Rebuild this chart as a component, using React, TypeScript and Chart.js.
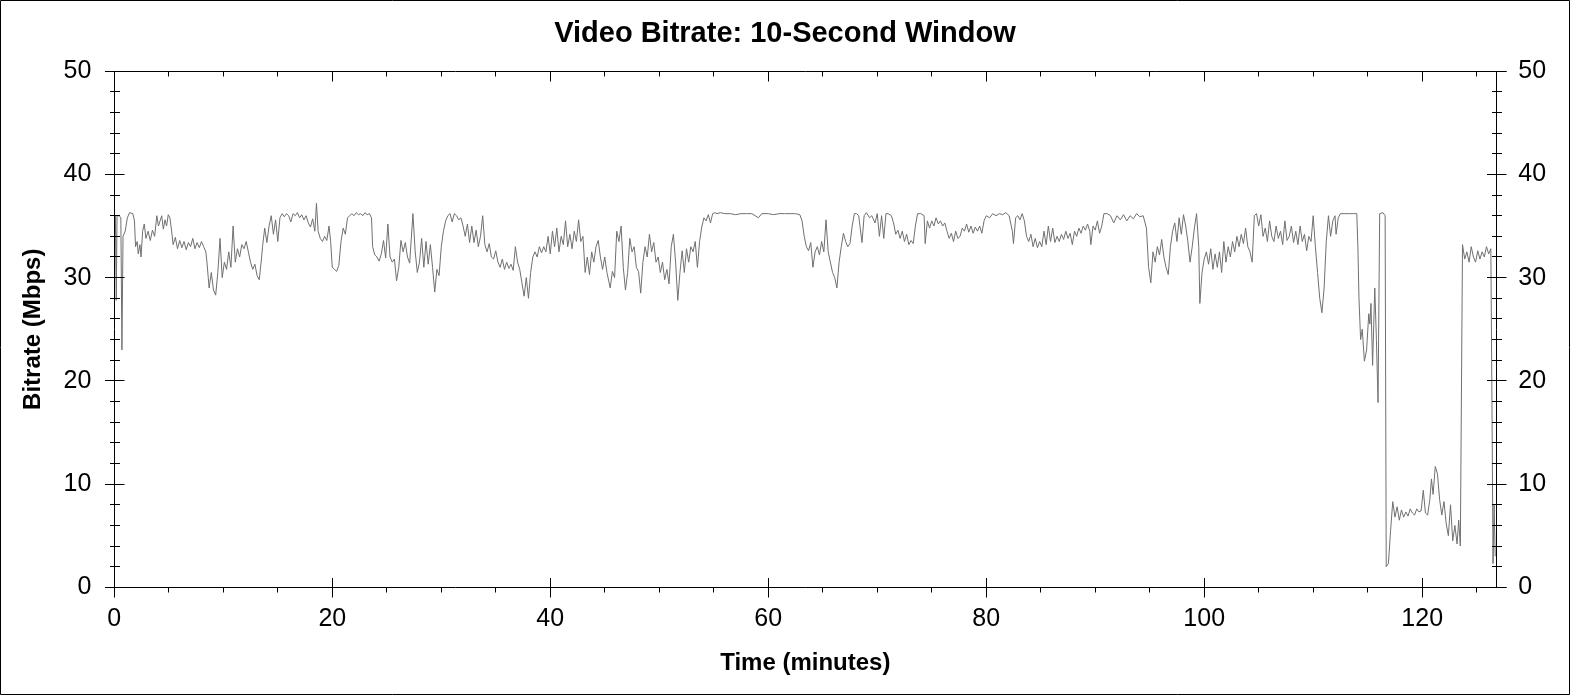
import React, { useEffect, useRef } from "react";
import { Chart, registerables } from "chart.js";

Chart.register(...registerables);

const TITLE = "Video Bitrate: 10-Second Window";
const X_TITLE = "Time (minutes)";
const Y_TITLE = "Bitrate (Mbps)";
const X_MAX = 126.8;
const Y_MAX = 50;
const X_MAJOR = 20;
const X_MINOR = 5;
const Y_MAJOR = 10;
const Y_MINOR = 2;

const TIME_MIN = [
  0.0, 0.1, 0.18, 0.25, 0.45, 0.6, 0.7, 0.8, 1.0, 1.2,
  1.4, 1.7, 1.85, 1.95, 2.1, 2.2, 2.35, 2.45, 2.6, 2.75,
  2.9, 3.1, 3.3, 3.5, 3.7, 3.9, 4.05, 4.2, 4.35, 4.5,
  4.65, 4.8, 4.95, 5.1, 5.25, 5.4, 5.6, 5.8, 6.0, 6.2,
  6.4, 6.6, 6.8, 7.0, 7.2, 7.4, 7.6, 7.8, 8.0, 8.2,
  8.4, 8.5, 8.7, 8.9, 9.1, 9.3, 9.5, 9.7, 9.9, 10.1,
  10.3, 10.5, 10.7, 10.9, 11.1, 11.3, 11.5, 11.7, 11.9, 12.1,
  12.3, 12.5, 12.7, 12.9, 13.1, 13.3, 13.5, 13.6, 13.8, 14.0,
  14.2, 14.4, 14.6, 14.8, 15.0, 15.2, 15.4, 15.6, 15.8, 16.0,
  16.2, 16.4, 16.6, 16.8, 17.0, 17.2, 17.4, 17.6, 17.8, 18.0,
  18.2, 18.4, 18.55, 18.7, 18.9, 19.1, 19.3, 19.5, 19.7, 19.85,
  20.0, 20.2, 20.4, 20.6, 20.8, 21.0, 21.2, 21.4, 21.6, 21.8,
  22.0, 22.2, 22.4, 22.6, 22.8, 23.0, 23.2, 23.4, 23.6, 23.7,
  23.9, 24.1, 24.3, 24.5, 24.7, 24.9, 25.1, 25.3, 25.5, 25.7,
  25.9, 26.1, 26.3, 26.5, 26.7, 26.9, 27.1, 27.4, 27.6, 27.8,
  28.0, 28.2, 28.4, 28.6, 28.8, 29.0, 29.2, 29.4, 29.6, 29.8,
  30.0, 30.2, 30.4, 30.6, 30.8, 31.0, 31.2, 31.4, 31.6, 31.8,
  32.0, 32.2, 32.4, 32.6, 32.8, 33.0, 33.2, 33.4, 33.6, 33.8,
  34.0, 34.2, 34.4, 34.6, 34.8, 35.0, 35.2, 35.4, 35.6, 35.8,
  36.0, 36.2, 36.4, 36.6, 36.8, 37.0, 37.2, 37.4, 37.6, 37.8,
  38.0, 38.2, 38.4, 38.6, 38.8, 39.0, 39.2, 39.4, 39.6, 39.8,
  40.0, 40.2, 40.4, 40.6, 40.8, 41.0, 41.2, 41.4, 41.6, 41.8,
  42.0, 42.2, 42.4, 42.6, 42.8, 43.0, 43.2, 43.4, 43.6, 43.8,
  44.0, 44.2, 44.4, 44.6, 44.8, 45.0, 45.2, 45.5, 45.7, 45.9,
  46.1, 46.3, 46.5, 46.7, 46.9, 47.1, 47.3, 47.5, 47.7, 47.9,
  48.1, 48.3, 48.5, 48.7, 48.9, 49.1, 49.3, 49.5, 49.7, 49.9,
  50.1, 50.3, 50.5, 50.7, 50.9, 51.1, 51.3, 51.5, 51.7, 51.9,
  52.1, 52.3, 52.5, 52.7, 52.9, 53.1, 53.3, 53.5, 53.7, 53.9,
  54.1, 54.3, 54.5, 54.7, 54.9, 55.1, 55.3, 55.6, 56.0, 56.5,
  57.0, 57.5, 58.0, 58.5, 59.1, 59.4, 60.0, 60.5, 61.0, 61.5,
  62.0, 62.5, 62.9, 63.1, 63.3, 63.5, 63.7, 63.9, 64.1, 64.3,
  64.5, 64.7, 64.9, 65.1, 65.3, 65.5, 65.7, 65.9, 66.1, 66.3,
  66.5, 66.7, 66.9, 67.1, 67.3, 67.5, 67.7, 67.9, 68.1, 68.3,
  68.6, 68.8, 69.0, 69.3, 69.5, 69.8, 70.0, 70.2, 70.4, 70.6,
  70.8, 71.0, 71.3, 71.5, 71.7, 71.9, 72.1, 72.3, 72.5, 72.7,
  72.9, 73.1, 73.3, 73.5, 73.7, 74.0, 74.3, 74.4, 74.6, 74.8,
  75.0, 75.2, 75.4, 75.6, 75.8, 76.0, 76.2, 76.4, 76.6, 76.8,
  77.0, 77.2, 77.4, 77.6, 77.8, 78.0, 78.2, 78.4, 78.6, 78.8,
  79.0, 79.2, 79.4, 79.6, 79.8, 80.0, 80.3, 80.6, 80.9, 81.2,
  81.5, 81.8, 82.1, 82.4, 82.5, 82.7, 82.9, 83.1, 83.3, 83.5,
  83.7, 83.9, 84.1, 84.3, 84.5, 84.7, 84.9, 85.1, 85.3, 85.5,
  85.7, 85.9, 86.1, 86.3, 86.5, 86.7, 86.9, 87.1, 87.3, 87.5,
  87.7, 87.9, 88.1, 88.3, 88.5, 88.7, 88.9, 89.1, 89.3, 89.5,
  89.6, 89.8, 90.0, 90.2, 90.4, 90.6, 90.8, 91.1, 91.4, 91.7,
  92.0, 92.3, 92.6, 92.9, 93.2, 93.5, 93.8, 94.1, 94.4, 94.7,
  94.9, 95.1, 95.3, 95.5, 95.7, 95.9, 96.1, 96.3, 96.5, 96.7,
  96.9, 97.1, 97.3, 97.5, 97.7, 97.9, 98.1, 98.3, 98.5, 98.7,
  98.9, 99.1, 99.3, 99.5, 99.6, 99.8, 100.0, 100.2, 100.4, 100.6,
  100.8, 101.0, 101.2, 101.4, 101.6, 101.8, 102.0, 102.2, 102.4, 102.6,
  102.8, 103.0, 103.2, 103.4, 103.6, 103.8, 104.0, 104.2, 104.4, 104.6,
  104.8, 105.0, 105.2, 105.4, 105.6, 105.8, 106.0, 106.2, 106.4, 106.6,
  106.8, 107.0, 107.2, 107.4, 107.6, 107.8, 108.0, 108.2, 108.4, 108.6,
  108.8, 109.0, 109.2, 109.4, 109.6, 109.8, 110.0, 110.2, 110.4, 110.6,
  110.8, 111.0, 111.2, 111.4, 111.6, 111.8, 112.0, 112.1, 112.3, 112.5,
  112.9, 113.3, 113.7, 114.0, 114.1, 114.2, 114.35, 114.5, 114.7, 114.9,
  115.1, 115.2, 115.3, 115.45, 115.65, 115.8, 115.95, 116.1, 116.4, 116.6,
  116.7, 116.9, 117.1, 117.3, 117.5, 117.7, 117.9, 118.1, 118.3, 118.5,
  118.7, 118.9, 119.1, 119.3, 119.5, 119.7, 119.9, 120.1, 120.3, 120.5,
  120.7, 120.85, 121.0, 121.2, 121.4, 121.6, 121.8, 122.0, 122.2, 122.4,
  122.6, 122.8, 123.0, 123.2, 123.35, 123.5, 123.7, 123.9, 124.1, 124.3,
  124.5, 124.7, 124.9, 125.1, 125.3, 125.5, 125.7, 125.9, 126.1, 126.3,
  126.4, 126.5, 126.6, 126.7,
];

const BITRATE_MBPS = [
  36.0, 36.0, 27.8, 36.0, 36.0, 35.8, 23.0, 34.0, 34.5, 35.8,
  36.3, 36.2, 35.5, 33.0, 33.5, 32.3, 33.2, 32.0, 34.5, 35.2,
  33.8, 34.5, 33.6, 34.6, 34.0, 36.0, 35.0, 35.5, 36.0, 34.7,
  35.6, 35.0, 36.1, 35.8, 34.6, 33.2, 33.9, 32.8, 33.6, 32.9,
  33.5, 32.7, 33.4, 33.0, 33.8, 32.8, 33.4, 32.9, 33.5, 33.0,
  32.5, 31.5, 29.0, 30.5, 28.8, 28.3, 30.5, 33.8, 30.0, 31.5,
  30.8, 32.5, 31.0, 35.0, 31.5, 32.8, 32.0, 33.2, 32.8, 33.5,
  32.5, 31.5, 30.8, 31.3, 30.2, 29.8, 31.8, 33.0, 34.8, 33.4,
  35.0, 36.0, 34.2, 35.6, 33.5, 35.8, 36.2, 35.9, 36.2, 36.0,
  35.4, 36.2, 36.0, 36.3, 35.8, 36.1, 35.6, 36.0, 35.3, 34.9,
  35.7, 34.5, 37.2, 34.5, 33.8, 33.5, 34.0, 33.6, 35.0, 33.5,
  31.0, 30.8, 30.6, 31.2, 33.5, 34.8, 34.2, 35.8, 36.0, 36.2,
  36.0, 36.3, 36.1, 36.2, 36.0, 36.3, 36.1, 36.2, 35.8, 33.0,
  32.2, 32.0, 31.6, 32.3, 33.6, 31.9, 35.2, 32.0, 31.5, 31.8,
  29.7, 31.0, 33.6, 32.5, 33.4, 32.0, 31.4, 36.2, 32.6, 30.5,
  31.5, 33.8, 31.0, 33.5, 31.3, 33.2, 31.0, 28.6, 30.8, 30.2,
  33.0, 34.5, 35.5, 36.0, 36.2, 35.4, 36.2, 36.0, 35.6, 35.8,
  35.0, 34.0, 35.2, 33.4, 35.0, 33.4, 34.6, 33.0, 34.0, 36.0,
  33.2, 32.5, 33.3, 32.0, 31.8, 32.6, 31.5, 31.0, 31.8, 30.8,
  31.5, 30.9, 31.3, 30.7, 33.0, 31.5, 30.8, 29.5, 28.2, 30.0,
  28.0, 30.5, 32.0, 32.5, 32.0, 33.0, 32.4, 33.0, 32.5, 34.0,
  32.3, 34.5, 33.0, 34.8, 32.5, 34.0, 33.2, 35.5, 33.0, 34.2,
  32.8, 34.5, 33.5, 35.6, 33.5, 34.0, 30.5, 32.0, 30.3, 32.5,
  31.5, 33.0, 33.6, 32.0, 30.8, 32.0, 30.5, 29.0, 30.6, 30.0,
  34.5, 33.5, 35.0, 31.0, 28.8, 30.5, 33.8, 32.5, 33.0, 31.0,
  30.6, 28.5, 31.5, 33.0, 32.0, 34.2, 32.5, 33.4, 31.5, 32.0,
  30.5, 31.5, 29.8, 30.8, 29.4, 33.0, 34.2, 31.5, 27.8, 30.5,
  32.6, 30.5, 32.8, 31.5, 33.0, 32.5, 33.5, 31.0, 33.5, 34.9,
  35.8, 35.5, 36.1, 35.3, 36.2, 36.3, 36.2, 36.3, 36.2, 36.2,
  36.1, 36.2, 36.2, 36.2, 35.8, 36.2, 36.2, 36.1, 36.2, 36.2,
  36.2, 36.2, 36.1, 35.5, 34.0, 33.0, 32.6, 33.4, 31.0, 32.5,
  33.0, 32.2, 33.5, 32.5, 35.6, 32.5, 31.5, 30.5, 30.0, 29.0,
  31.5, 33.0, 34.3, 33.5, 33.0, 33.3, 35.0, 36.2, 36.2, 36.0,
  33.4, 36.0, 36.3, 35.8, 36.0, 35.3, 36.2, 34.0, 36.0, 33.8,
  36.2, 36.2, 36.0, 35.3, 34.2, 34.6, 33.8, 34.5, 33.5, 34.2,
  33.2, 33.6, 33.3, 35.0, 36.2, 36.2, 36.0, 33.3, 35.5, 34.8,
  35.5, 35.0, 35.8, 35.2, 35.5, 35.0, 35.3, 34.5, 33.8, 34.3,
  33.5, 34.5, 33.8, 34.0, 34.8, 34.5, 35.2, 34.4, 35.0, 34.3,
  34.9, 34.5, 35.0, 34.3, 35.5, 36.0, 35.8, 36.2, 36.0, 36.2,
  36.1, 36.3, 36.0, 34.5, 33.3, 35.8, 36.0, 35.6, 36.2, 35.5,
  34.0, 33.5, 34.2, 33.0, 33.8, 32.9, 33.5, 33.0, 34.5, 33.2,
  35.0, 33.5, 34.8, 33.4, 34.0, 33.5, 34.2, 33.7, 34.5, 33.8,
  34.3, 33.2, 34.5, 34.0, 34.8, 34.3, 35.0, 34.6, 35.2, 34.5,
  33.2, 35.0, 34.6, 35.5, 34.3, 35.0, 36.2, 36.2, 36.0, 35.3,
  36.0, 35.6, 36.1, 35.5, 36.0, 35.7, 36.2, 35.9, 36.0, 34.8,
  31.0, 29.5, 32.5, 31.5, 33.0, 32.2, 33.7, 32.0, 31.0, 30.3,
  33.0, 34.5, 35.3, 33.5, 35.8, 34.2, 36.1, 35.0, 33.5, 31.5,
  33.0, 34.8, 36.2, 33.0, 27.5, 30.5, 31.8, 32.5, 31.3, 32.8,
  30.8, 32.3, 31.0, 32.5, 30.5, 33.5, 31.5, 33.0, 32.0, 33.5,
  32.5, 34.0, 33.0, 34.2, 33.3, 34.8, 33.0, 32.5, 31.5, 36.0,
  36.2, 35.0, 36.1, 34.0, 34.8, 33.5, 35.5, 34.0, 33.5, 35.0,
  33.8, 34.5, 33.2, 35.5, 33.6, 34.0, 35.0, 33.4, 34.5, 33.2,
  35.0, 33.5, 34.2, 32.6, 34.0, 33.5, 36.0, 33.0, 30.5, 28.0,
  26.6, 29.0, 33.5, 36.0, 34.0, 35.5, 36.0, 34.2, 35.8, 36.2,
  36.2, 36.2, 36.2, 36.2, 33.0, 28.0, 24.0, 25.0, 21.9, 23.0,
  26.5, 25.5, 27.5, 21.5, 29.0, 24.0, 17.9, 36.2, 36.3, 36.0,
  2.0, 2.3, 5.5, 8.3, 6.8, 7.8, 6.5, 7.5, 6.8, 7.3,
  6.9, 7.6, 7.2, 7.0, 7.6, 7.3, 7.4, 9.4, 7.2, 7.0,
  8.5, 10.5, 9.0, 11.7, 11.0, 8.5, 7.0, 8.3, 6.2, 5.0,
  8.0, 4.5, 6.0, 4.2, 6.5, 4.0, 33.2, 31.8, 32.5, 31.5,
  33.0, 32.0, 31.5, 32.6, 31.8, 32.5, 32.0, 33.0, 32.3, 32.8,
  18.0, 2.3, 8.0, 3.0,
];

const FONT = "'Liberation Sans', Arial, sans-serif";
const LINE_COLOR = "#707070";
const W = 1570;
const H = 695;

const framePlugin = {
  id: "frame",
  afterDraw(chart: any) {
    const { ctx } = chart;
    const xs = chart.scales.x;
    const ys = chart.scales.y;
    const c = (v: number) => Math.floor(v) + 0.5;
    const L = c(xs.getPixelForValue(0));
    const R = c(xs.getPixelForValue(X_MAX));
    const T = c(ys.getPixelForValue(Y_MAX));
    const B = c(ys.getPixelForValue(0));
    ctx.save();
    ctx.strokeStyle = "#000";
    ctx.lineWidth = 1;
    ctx.beginPath();
    const seg = (x1: number, y1: number, x2: number, y2: number) => {
      ctx.moveTo(x1, y1);
      ctx.lineTo(x2, y2);
    };
    // outer border
    ctx.rect(0.5, 0.5, chart.width - 1, chart.height - 1);
    // frame
    seg(L - 9.5, T, R + 10, T);
    seg(L - 9.5, B, R + 10, B);
    seg(L, T, L, B);
    seg(R, T, R, B);
    // y ticks both sides
    for (let v = 0; v <= Y_MAX; v += Y_MINOR) {
      const y = c(ys.getPixelForValue(v));
      const major = v % Y_MAJOR === 0;
      const a = major ? 9.5 : 4.5;
      const b = major ? 10 : 5.5;
      seg(L - a, y, L + b, y);
      seg(R - a, y, R + b, y);
    }
    // x ticks bottom and top
    for (let v = 0; v <= X_MAX; v += X_MINOR) {
      const x = c(xs.getPixelForValue(v));
      const major = v % X_MAJOR === 0;
      if (major) {
        seg(x, B - 9.5, x, B + 10);
        seg(x, T, x, T + 10);
      } else {
        seg(x, B, x, B + 5);
        seg(x, T, x, T + 5);
      }
    }
    ctx.stroke();
    ctx.restore();
  },
};

export default function App() {
  const canvasRef = useRef<HTMLCanvasElement | null>(null);

  useEffect(() => {
    document.body.style.margin = "0";
    const canvas = canvasRef.current;
    if (!canvas) return;
    const points = TIME_MIN.map((t, i) => ({ x: t, y: BITRATE_MBPS[i] }));
    const tickFont = { family: FONT, size: 25 };
    const titleFont = { family: FONT, size: 24, weight: "bold" as const };
    const chart = new Chart(canvas, {
      type: "line",
      data: {
        datasets: [
          {
            data: points,
            borderColor: LINE_COLOR,
            borderWidth: 1,
            pointRadius: 0,
            tension: 0,
            fill: false,
          },
        ],
      },
      options: {
        responsive: false,
        animation: false,
        devicePixelRatio: 1,
        layout: { padding: 0 },
        plugins: {
          legend: { display: false },
          tooltip: { enabled: false },
          title: {
            display: true,
            text: TITLE,
            color: "#000",
            font: { family: FONT, size: 29, weight: "bold" },
            padding: { top: 16.7, bottom: 19.7 },
          },
        },
        scales: {
          x: {
            type: "linear",
            position: "bottom",
            min: 0,
            max: X_MAX,
            grid: { display: false, drawTicks: false },
            border: { display: false },
            ticks: {
              stepSize: X_MAJOR,
              includeBounds: false,
              color: "#000",
              font: tickFont,
              padding: 17,
              maxRotation: 0,
            },
            title: {
              display: true,
              text: X_TITLE,
              color: "#000",
              font: titleFont,
              padding: { top: 0, bottom: 17.6 },
            },
            afterFit: (s: any) => {
              s.height = 107.7;
            },
          },
          y: {
            type: "linear",
            position: "left",
            min: 0,
            max: Y_MAX,
            grid: { display: false, drawTicks: false },
            border: { display: false },
            ticks: { stepSize: Y_MAJOR, color: "#000", font: tickFont, padding: 23 },
            title: {
              display: true,
              text: Y_TITLE,
              color: "#000",
              font: titleFont,
              padding: { top: 18.6, bottom: 0 },
            },
            afterFit: (s: any) => {
              s.width = 114.3;
            },
          },
          y2: {
            type: "linear",
            position: "right",
            min: 0,
            max: Y_MAX,
            grid: { display: false, drawTicks: false },
            border: { display: false },
            ticks: { stepSize: Y_MAJOR, color: "#000", font: tickFont, padding: 22 },
            afterFit: (s: any) => {
              s.width = 73.7;
            },
          },
        },
      },
      plugins: [framePlugin],
    });
    return () => chart.destroy();
  }, []);

  return (
    <div style={{ width: W, height: H, background: "#fff" }}>
      <canvas ref={canvasRef} width={W} height={H} style={{ display: "block" }} />
    </div>
  );
}
